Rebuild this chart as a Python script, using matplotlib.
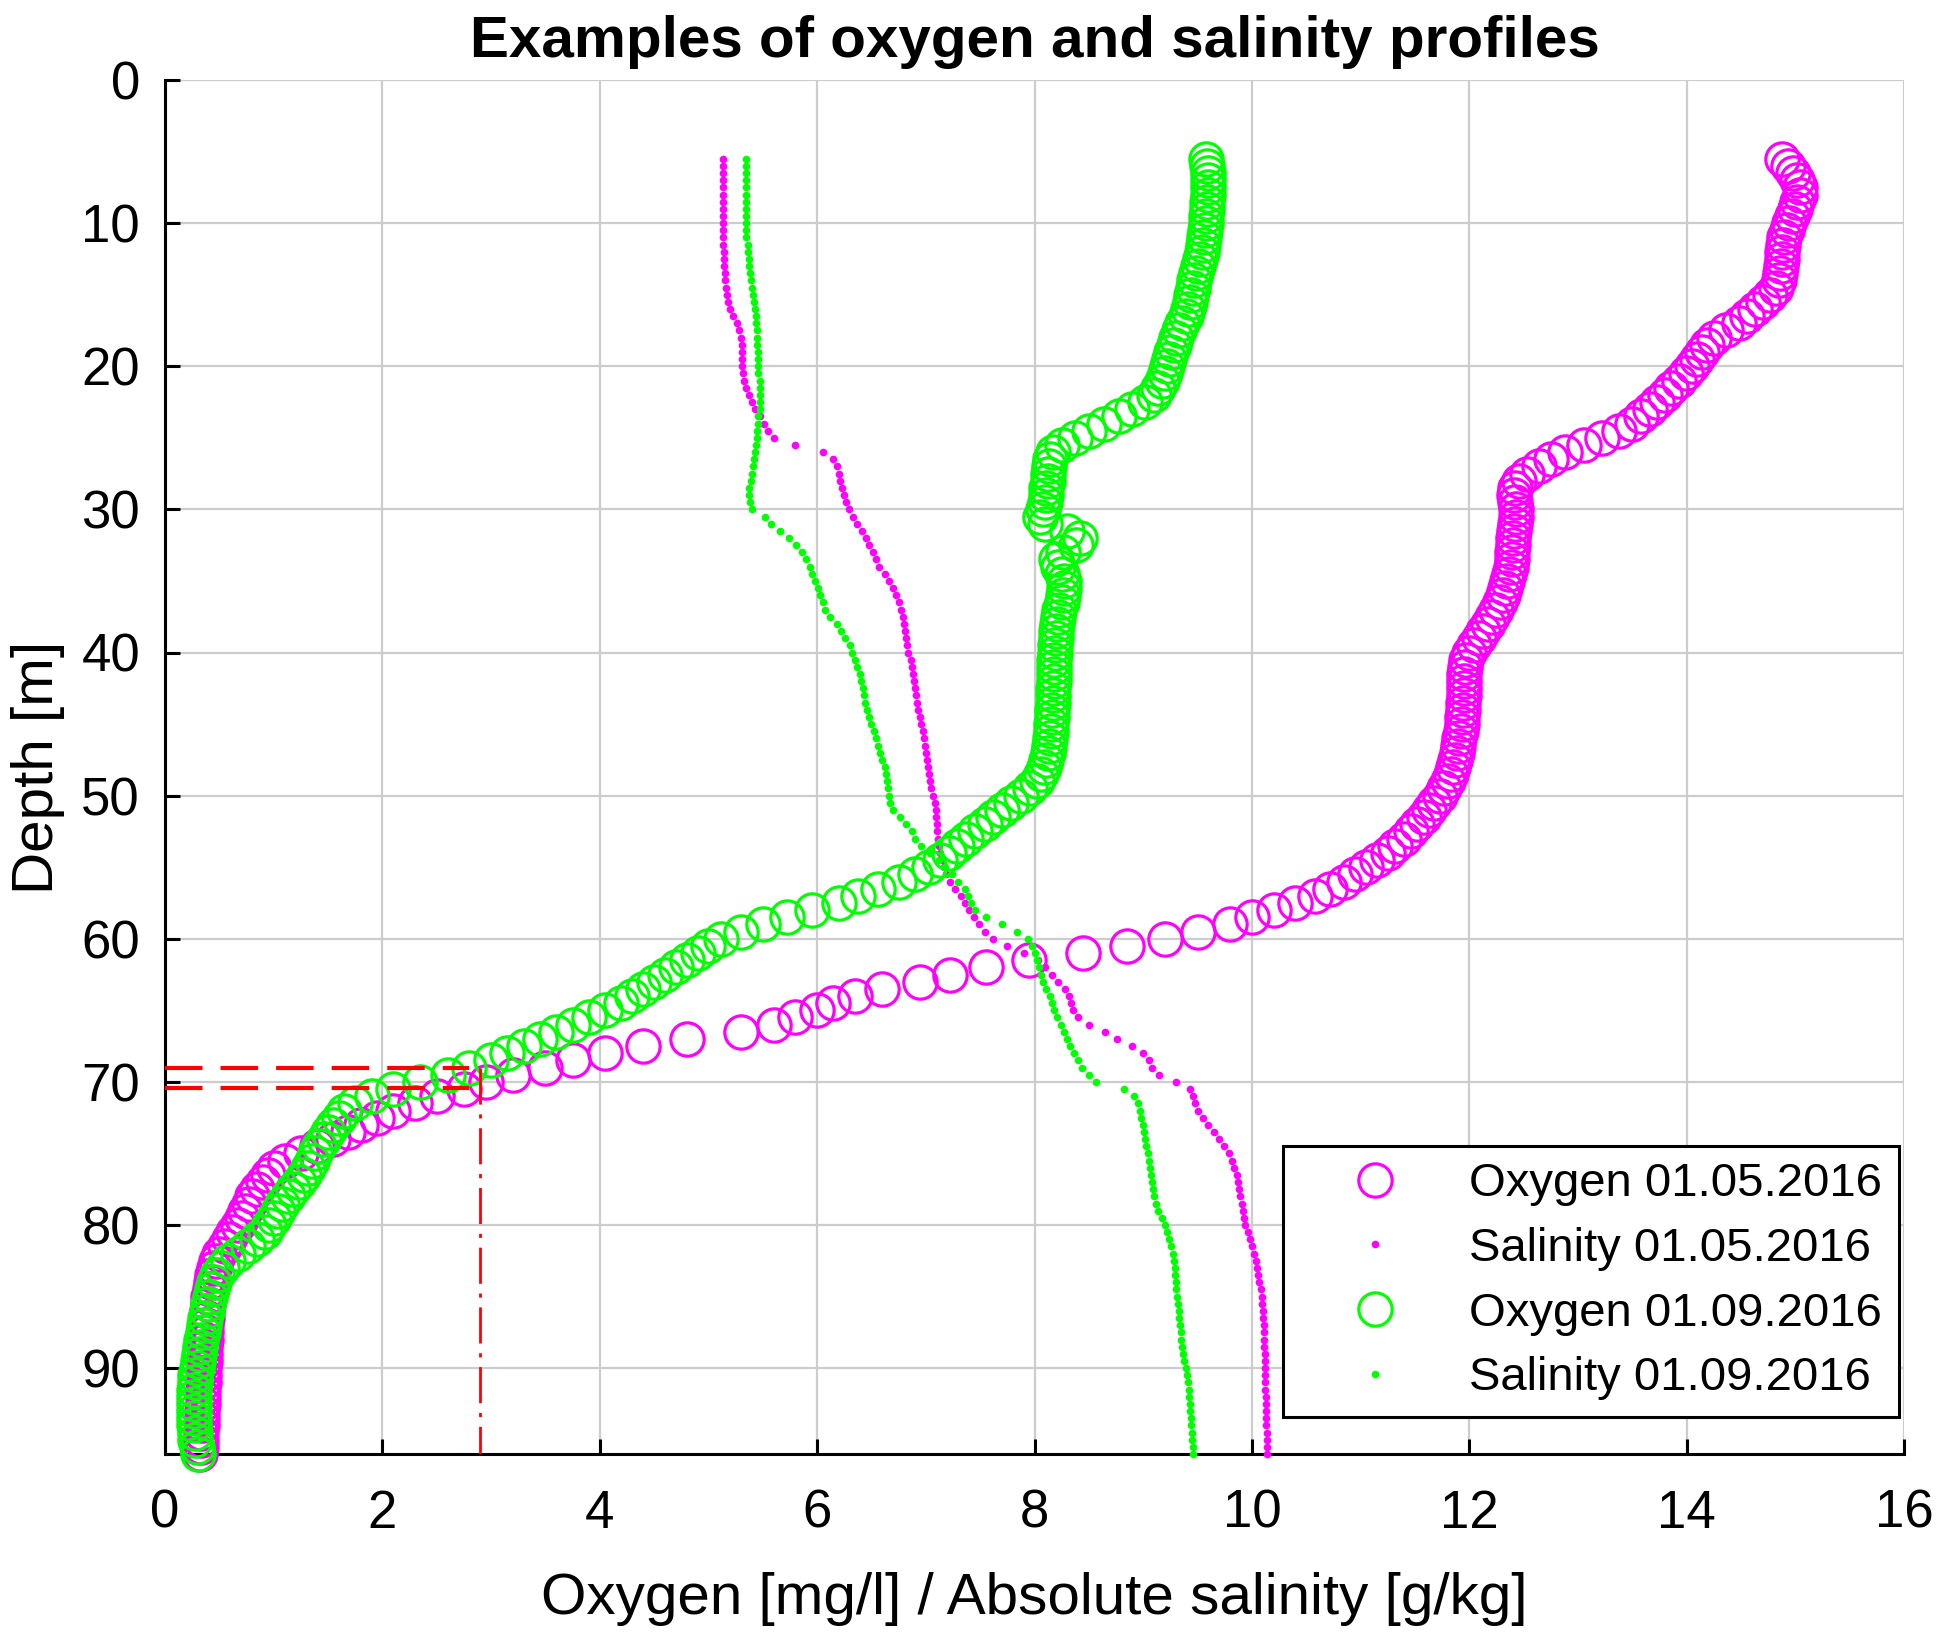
import numpy as np
import matplotlib
matplotlib.use("Agg")
import matplotlib.pyplot as plt

plt.rcParams['font.family'] = ['Liberation Sans', 'DejaVu Sans']
plt.rcParams['lines.scale_dashes'] = False

# sampling depths of the CTD casts (0.5 m bins)
depth = np.arange(5.5, 96.01, 0.5)

# oxygen [mg/l], 01.05.2016
o2_may = [
    14.88, 14.93, 14.98, 15.02, 15.04, 15.04, 15.02, 15.00, 14.97, 14.94,
    14.92, 14.90, 14.89, 14.88, 14.88, 14.87, 14.86, 14.85, 14.82, 14.77,
    14.70, 14.63, 14.56, 14.48, 14.36, 14.25, 14.19, 14.14, 14.10, 14.05,
    13.99, 13.93, 13.86, 13.80, 13.73, 13.66, 13.58, 13.50, 13.38, 13.22,
    13.06, 12.88, 12.75, 12.64, 12.53, 12.46, 12.42, 12.41, 12.42, 12.43,
    12.43, 12.42, 12.41, 12.40, 12.40, 12.39, 12.39, 12.38, 12.37, 12.35,
    12.33, 12.31, 12.28, 12.25, 12.21, 12.17, 12.13, 12.09, 12.04, 12.00,
    11.97, 11.96, 11.95, 11.95, 11.95, 11.95, 11.94, 11.94, 11.93, 11.93,
    11.92, 11.91, 11.90, 11.89, 11.87, 11.85, 11.83, 11.80, 11.77, 11.73,
    11.68, 11.63, 11.58, 11.52, 11.46, 11.40, 11.32, 11.25, 11.15, 11.05,
    10.95, 10.85, 10.72, 10.58, 10.40, 10.20, 10.00, 9.80, 9.50, 9.20,
    8.85, 8.45, 7.95, 7.55, 7.22, 6.95, 6.60, 6.35, 6.15, 6.00,
    5.80, 5.60, 5.30, 4.80, 4.40, 4.05, 3.75, 3.50, 3.20, 2.95,
    2.75, 2.50, 2.30, 2.10, 1.95, 1.80, 1.68, 1.55, 1.40, 1.25,
    1.10, 1.00, 0.95, 0.90, 0.85, 0.80, 0.77, 0.74, 0.71, 0.67,
    0.63, 0.59, 0.55, 0.50, 0.47, 0.45, 0.43, 0.42, 0.41, 0.40,
    0.40, 0.39, 0.39, 0.38, 0.38, 0.38, 0.37, 0.37, 0.37, 0.36,
    0.36, 0.36, 0.35, 0.35, 0.35, 0.34, 0.34, 0.34, 0.33, 0.33,
    0.33, 0.32,
]

# absolute salinity [g/kg], 01.05.2016
sal_may = [
    5.13, 5.13, 5.13, 5.13, 5.13, 5.13, 5.13, 5.13, 5.13, 5.13,
    5.13, 5.13, 5.13, 5.14, 5.14, 5.14, 5.15, 5.15, 5.16, 5.17,
    5.18, 5.20, 5.23, 5.26, 5.28, 5.30, 5.31, 5.31, 5.31, 5.31,
    5.32, 5.33, 5.35, 5.37, 5.40, 5.43, 5.47, 5.51, 5.55, 5.60,
    5.80, 6.05, 6.15, 6.18, 6.20, 6.21, 6.23, 6.25, 6.27, 6.29,
    6.33, 6.37, 6.41, 6.45, 6.48, 6.51, 6.54, 6.57, 6.62, 6.66,
    6.70, 6.73, 6.75, 6.77, 6.79, 6.80, 6.81, 6.82, 6.83, 6.84,
    6.86, 6.87, 6.88, 6.89, 6.90, 6.91, 6.92, 6.93, 6.95, 6.96,
    6.97, 6.98, 6.99, 7.00, 7.01, 7.02, 7.03, 7.04, 7.05, 7.07,
    7.08, 7.09, 7.09, 7.10, 7.10, 7.11, 7.12, 7.13, 7.15, 7.17,
    7.19, 7.22, 7.27, 7.32, 7.36, 7.40, 7.44, 7.49, 7.54, 7.62,
    7.75, 7.90, 8.03, 8.10, 8.16, 8.22, 8.28, 8.32, 8.34, 8.35,
    8.40, 8.50, 8.65, 8.76, 8.90, 9.00, 9.05, 9.08, 9.15, 9.30,
    9.43, 9.46, 9.48, 9.50, 9.55, 9.60, 9.65, 9.70, 9.74, 9.79,
    9.82, 9.84, 9.86, 9.87, 9.88, 9.89, 9.91, 9.92, 9.93, 9.94,
    9.96, 9.98, 10.00, 10.02, 10.04, 10.05, 10.06, 10.07, 10.08, 10.09,
    10.09, 10.10, 10.10, 10.11, 10.11, 10.11, 10.11, 10.12, 10.12, 10.12,
    10.12, 10.12, 10.12, 10.13, 10.13, 10.13, 10.13, 10.13, 10.14, 10.14,
    10.14, 10.14,
]

# oxygen [mg/l], 01.09.2016
o2_sep = [
    9.58, 9.59, 9.60, 9.60, 9.60, 9.60, 9.59, 9.59, 9.58, 9.58,
    9.57, 9.56, 9.55, 9.54, 9.52, 9.50, 9.49, 9.47, 9.46, 9.44,
    9.43, 9.41, 9.39, 9.36, 9.33, 9.30, 9.28, 9.26, 9.24, 9.22,
    9.20, 9.17, 9.14, 9.10, 9.02, 8.90, 8.78, 8.64, 8.50, 8.37,
    8.25, 8.17, 8.14, 8.13, 8.12, 8.12, 8.11, 8.11, 8.10, 8.08,
    8.05, 8.10, 8.30, 8.42, 8.38, 8.26, 8.20, 8.22, 8.25, 8.27,
    8.27, 8.26, 8.25, 8.23, 8.22, 8.21, 8.20, 8.20, 8.19, 8.19,
    8.18, 8.18, 8.18, 8.18, 8.17, 8.17, 8.17, 8.16, 8.16, 8.15,
    8.15, 8.14, 8.13, 8.12, 8.11, 8.09, 8.06, 8.02, 7.96, 7.88,
    7.78, 7.70, 7.62, 7.54, 7.45, 7.37, 7.29, 7.21, 7.13, 7.03,
    6.90, 6.75, 6.56, 6.38, 6.20, 5.95, 5.72, 5.50, 5.30, 5.12,
    5.00, 4.90, 4.80, 4.70, 4.60, 4.50, 4.40, 4.30, 4.20, 4.05,
    3.90, 3.75, 3.60, 3.45, 3.30, 3.15, 3.00, 2.80, 2.60, 2.35,
    2.10, 1.90, 1.75, 1.65, 1.60, 1.55, 1.50, 1.46, 1.42, 1.38,
    1.35, 1.32, 1.28, 1.23, 1.18, 1.13, 1.08, 1.04, 1.00, 0.96,
    0.92, 0.85, 0.76, 0.67, 0.58, 0.52, 0.48, 0.45, 0.43, 0.41,
    0.40, 0.39, 0.37, 0.36, 0.35, 0.33, 0.32, 0.31, 0.30, 0.29,
    0.28, 0.28, 0.27, 0.27, 0.27, 0.27, 0.27, 0.27, 0.28, 0.28,
    0.29, 0.30,
]

# absolute salinity [g/kg], 01.09.2016
sal_sep = [
    5.35, 5.35, 5.35, 5.35, 5.35, 5.35, 5.35, 5.35, 5.35, 5.35,
    5.35, 5.35, 5.36, 5.36, 5.37, 5.37, 5.38, 5.39, 5.40, 5.41,
    5.42, 5.43, 5.44, 5.44, 5.45, 5.45, 5.45, 5.46, 5.46, 5.46,
    5.46, 5.47, 5.47, 5.47, 5.47, 5.47, 5.46, 5.46, 5.45, 5.45,
    5.44, 5.43, 5.42, 5.41, 5.40, 5.39, 5.37, 5.37, 5.38, 5.40,
    5.52, 5.58, 5.66, 5.74, 5.81, 5.86, 5.90, 5.93, 5.95, 5.98,
    6.01, 6.03, 6.05, 6.07, 6.12, 6.18, 6.22, 6.26, 6.30, 6.32,
    6.35, 6.37, 6.39, 6.40, 6.42, 6.43, 6.44, 6.46, 6.48, 6.50,
    6.52, 6.54, 6.56, 6.58, 6.60, 6.62, 6.63, 6.64, 6.65, 6.66,
    6.67, 6.70, 6.76, 6.82, 6.87, 6.90, 6.96, 7.04, 7.12, 7.18,
    7.24, 7.30, 7.36, 7.39, 7.42, 7.45, 7.55, 7.70, 7.84, 7.94,
    7.98, 8.00, 8.02, 8.04, 8.06, 8.08, 8.11, 8.14, 8.16, 8.18,
    8.21, 8.24, 8.27, 8.30, 8.33, 8.36, 8.40, 8.44, 8.50, 8.57,
    8.82, 8.92, 8.95, 8.97, 8.98, 9.00, 9.01, 9.02, 9.03, 9.04,
    9.05, 9.06, 9.07, 9.08, 9.09, 9.10, 9.12, 9.14, 9.17, 9.20,
    9.22, 9.24, 9.26, 9.27, 9.28, 9.29, 9.29, 9.30, 9.30, 9.31,
    9.32, 9.33, 9.33, 9.34, 9.35, 9.35, 9.36, 9.37, 9.38, 9.39,
    9.40, 9.41, 9.42, 9.42, 9.43, 9.43, 9.44, 9.44, 9.45, 9.45,
    9.46, 9.46,
]

dates = ['01.05.2016', '01.09.2016']

# hypoxia marker: oxygen threshold and the depths where it is reached
o2_limit = 2.9
limit_depths = [69.0, 70.45]

magenta = '#ff00ff'
green = '#00ff00'

fig = plt.figure(figsize=(19.4, 16.36), dpi=100)
ax = fig.add_axes([165 / 1940, 1 - 1454 / 1636, (1904 - 165) / 1940, (1454 - 80) / 1636])

ax.plot(o2_may, depth, 'o', ms=24, mfc='none', mec=magenta, mew=2.3,
        clip_on=False, label='Oxygen ' + dates[0], zorder=3)
ax.plot(sal_may, depth, 'o', ms=5.5, mfc=magenta, mec='none',
        clip_on=False, label='Salinity ' + dates[0], zorder=3)
ax.plot(o2_sep, depth, 'o', ms=24, mfc='none', mec=green, mew=2.3,
        clip_on=False, label='Oxygen ' + dates[1], zorder=3)
ax.plot(sal_sep, depth, 'o', ms=5.5, mfc=green, mec='none',
        clip_on=False, label='Salinity ' + dates[1], zorder=3)

# red guide lines
for d in limit_depths:
    ax.plot([0, o2_limit - 0.1], [d, d], color='red', lw=3, dashes=(27, 13), zorder=4)
ax.plot([o2_limit, o2_limit], [limit_depths[0], 96], color='red', lw=2,
        dashes=(26, 7, 3, 7), zorder=4)

ax.set_xlim(0, 16)
ax.set_ylim(96, 0)
ax.set_xticks(np.arange(0, 17, 2))
ax.set_yticks(np.arange(0, 91, 10))
ax.grid(True, color='#cccccc', lw=1.6)
ax.set_axisbelow(True)

for side in ['top', 'right']:
    ax.spines[side].set_visible(False)
for side in ['left', 'bottom']:
    ax.spines[side].set_linewidth(2.2)

ax.tick_params(direction='in', length=11, width=2.2, labelsize=38)
ax.tick_params(axis='x', pad=25)
ax.tick_params(axis='y', pad=18)

ax.set_xlabel('Oxygen [mg/l] / Absolute salinity [g/kg]', fontsize=42, va='center')
ax.xaxis.set_label_coords(0.5, -0.1055)
ax.set_ylabel('Depth [m]', fontsize=42, va='center')
ax.yaxis.set_label_coords(-0.073, 0.5)
ax.set_title('Examples of oxygen and salinity profiles', fontsize=42,
             fontweight='bold', y=1.0277, va='center', pad=0)

leg = ax.legend(loc='lower right', bbox_to_anchor=(1899 / 1940, 1 - 1417 / 1636),
                bbox_transform=fig.transFigure, borderaxespad=0, fontsize=34,
                frameon=True, fancybox=False, edgecolor='black', framealpha=1,
                numpoints=1, handlelength=3.2, handletextpad=0.4, borderpad=0.35,
                labelspacing=0.44)
leg.get_frame().set_linewidth(2.2)

fig.savefig('out.png', dpi=100)
